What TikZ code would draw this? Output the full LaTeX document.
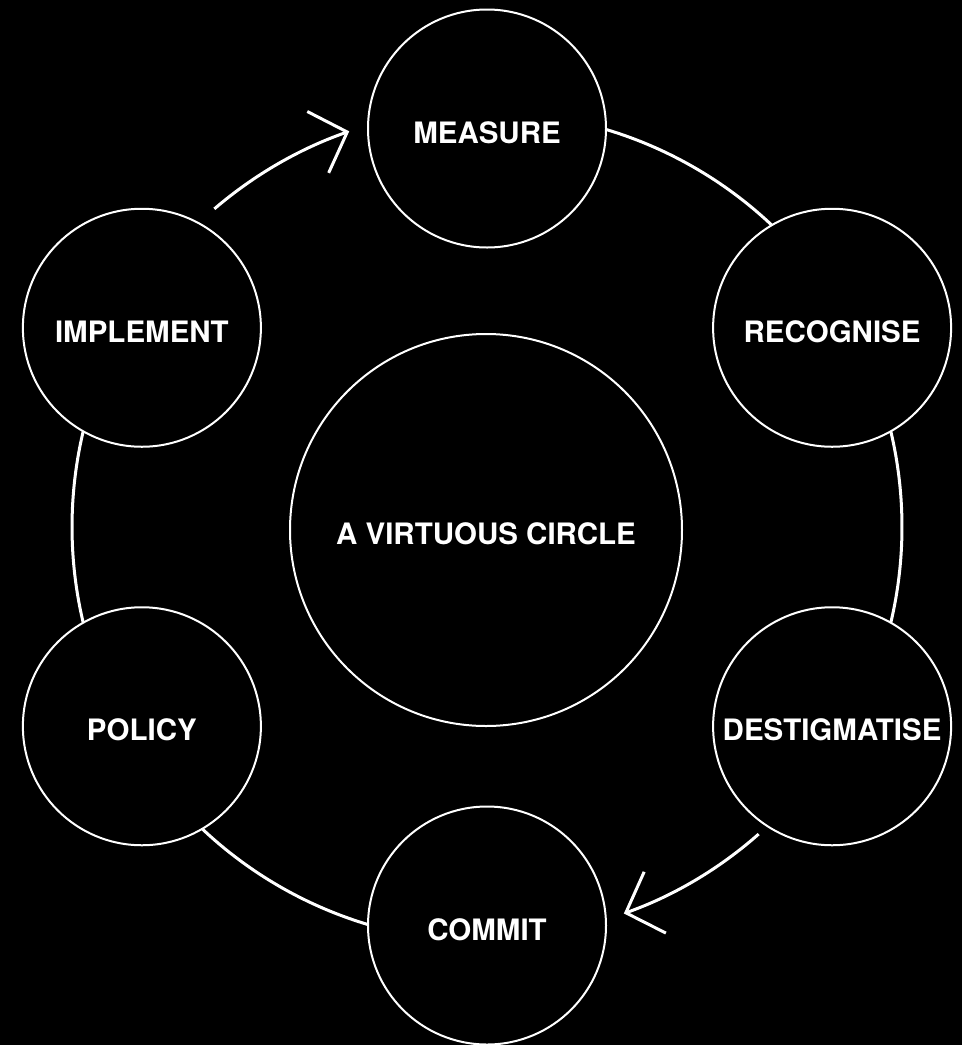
\documentclass[tikz,border=0pt]{standalone}
\usepackage{fontspec}
\setmainfont{TeX Gyre Heros}
\usetikzlibrary{arrows.meta,calc}
\begin{document}
\begin{tikzpicture}[x=1pt,y=1pt,
  stage/.style={circle, draw=white, line width=2pt, minimum size=238pt,
    inner sep=0pt, text=white, text height=29pt, text depth=0pt,
    font=\fontsize{29.5}{34}\selectfont\bfseries},
  hub/.style={stage, minimum size=392pt},
  ringarc/.style={draw=white, line width=3pt},
  flow/.style={ringarc, -{Straight Barb[length=31pt,width=65pt,line width=3pt]}}
]
% background and page size
\fill[black] (0,0) rectangle (962,-1045);
\useasboundingbox (0,0) rectangle (962,-1045);

% centre of the cycle
\coordinate (c) at (487,-527);
\def\orbit{398.5}
\def\ring{415}

% the six stages around the cycle
\node[stage] (measure)  at ($(c)+(90:\orbit)$)   {MEASURE};
\node[stage] (recog)    at ($(c)+(30:\orbit)$)   {RECOGNISE};
\node[stage] (destig)   at ($(c)+(-30:\orbit)$)  {DESTIGMATISE};
\node[stage] (commit)   at ($(c)+(-90:\orbit)$)  {COMMIT};
\node[stage] (policy)   at ($(c)+(-150:\orbit)$) {POLICY};
\node[stage] (implem)   at ($(c)+(150:\orbit)$)  {IMPLEMENT};

% central hub
\node[hub] (hub) at (486,-530) {A VIRTUOUS CIRCLE};

% ring segments joining neighbouring stages
\draw[ringarc] ($(c)+(73.33:\ring)$)   arc[start angle=73.33,   end angle=46.67,   radius=\ring];
\draw[ringarc] ($(c)+(13.33:\ring)$)   arc[start angle=13.33,   end angle=-13.33,  radius=\ring];
\draw[ringarc] ($(c)+(-106.67:\ring)$) arc[start angle=-106.67, end angle=-133.33, radius=\ring];
\draw[ringarc] ($(c)+(-166.67:\ring)$) arc[start angle=-166.67, end angle=-193.33, radius=\ring];

% directional arrows
\draw[flow] ($(c)+(130.6:419)$) arc[start angle=130.6, end angle=109.2, radius=419];
\draw[flow] ($(c)+(-48.5:410)$) arc[start angle=-48.5, end angle=-70.5, radius=410];
\end{tikzpicture}
\end{document}
